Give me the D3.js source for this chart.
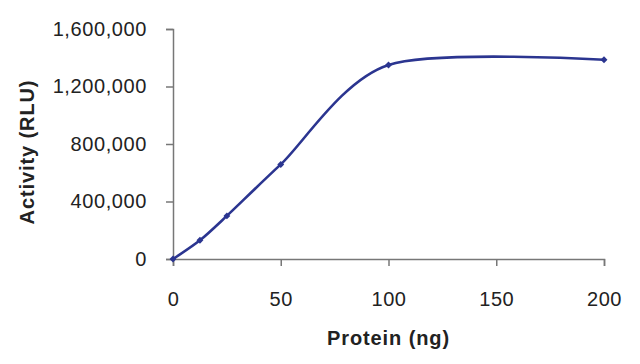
<!DOCTYPE html>
<html><head><meta charset="utf-8">
<script src="https://cdn.jsdelivr.net/npm/d3@7"></script>
<style>body{margin:0;background:#fff}svg{display:block}</style>
</head><body>
<svg id="chart" width="640" height="364"></svg>
<script>
const proteinNg = [0, 12.5, 25, 50, 100, 200];
const activityRLU = [0, 130000, 300000, 658000, 1350000, 1386000];
const xTicks = [0, 50, 100, 150, 200];
const yTicks = [0, 400000, 800000, 1200000, 1600000];
const xTitle = "Protein (ng)";
const yTitle = "Activity (RLU)";

const svg = d3.select("#chart");
const m = {left: 173, right: 36, top: 29, bottom: 105};
const W = 640, H = 364;
const x = d3.scaleLinear().domain([0, 200]).range([m.left, W - m.right]);
const y = d3.scaleLinear().domain([0, 1600000]).range([H - m.bottom, m.top]);
const font = "Arial, 'Liberation Sans', sans-serif";
const textCol = "#222";
const axisCol = "#777";

const xAxis = svg.append("g").attr("transform", `translate(0,${y(0)})`)
  .call(d3.axisBottom(x).tickValues(xTicks).tickSize(7).tickPadding(26).tickFormat(d3.format("d")));
const yAxis = svg.append("g").attr("transform", `translate(${x(0)},0)`)
  .call(d3.axisLeft(y).tickValues(yTicks).tickSize(7).tickPadding(19).tickFormat(d3.format(",")));
[xAxis, yAxis].forEach(g => {
  g.select(".domain").attr("stroke", axisCol).attr("stroke-width", 1.5);
  g.selectAll(".tick line").attr("stroke", axisCol).attr("stroke-width", 1.5);
  g.selectAll("text").attr("fill", textCol).style("font-family", font)
    .style("font-size", "20px").style("letter-spacing", "0.6px");
});

const data = proteinNg.map((p, i) => ({p, a: activityRLU[i]}));
const line = d3.line().x(d => x(d.p)).y(d => y(d.a)).curve(d3.curveCardinal.tension(0.15));
svg.append("path").datum(data).attr("d", line)
  .attr("fill", "none").attr("stroke", "#2b3590").attr("stroke-width", 2.6);

svg.selectAll(".pt").data(data).join("path").attr("class", "pt")
  .attr("transform", d => `translate(${x(d.p)},${y(d.a)}) rotate(45)`)
  .attr("d", d3.symbol(d3.symbolSquare, 24))
  .attr("fill", "#2b3590");

svg.append("text").attr("x", (x(0) + x(200)) / 2).attr("y", 345)
  .attr("text-anchor", "middle").attr("fill", textCol)
  .style("font-family", font).style("font-weight", "bold").style("font-size", "20px")
  .style("letter-spacing", "0.9px").text(xTitle);
svg.append("text").attr("transform", `translate(34,${(y(0) + y(1600000)) / 2 + 8}) rotate(-90)`)
  .attr("text-anchor", "middle").attr("fill", textCol)
  .style("font-family", font).style("font-weight", "bold").style("font-size", "20px")
  .style("letter-spacing", "0.9px").text(yTitle);
</script>
</body></html>
